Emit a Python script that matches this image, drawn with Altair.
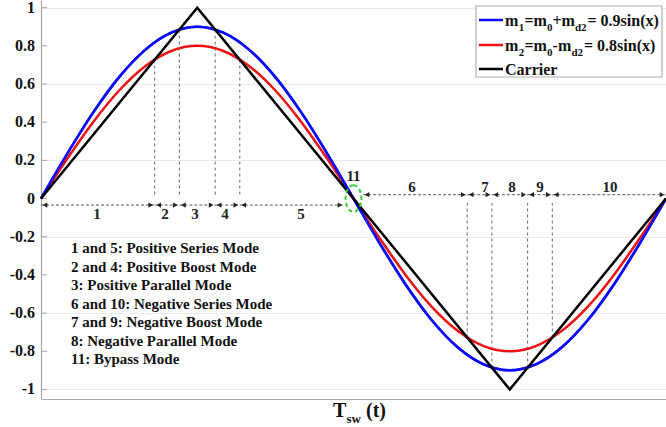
import altair as alt
import pandas as pd

# ---------------- data ----------------
deg = [0, 15, 30, 45, 60, 75, 90, 105, 120, 135, 150, 165, 180,
       195, 210, 225, 240, 255, 270, 285, 300, 315, 330, 345, 360]
m1 = [0, 0.233, 0.45, 0.636, 0.779, 0.869, 0.9, 0.869, 0.779, 0.636, 0.45, 0.233, 0,
      -0.233, -0.45, -0.636, -0.779, -0.869, -0.9, -0.869, -0.779, -0.636, -0.45, -0.233, 0]
m2 = [0, 0.207, 0.4, 0.566, 0.693, 0.773, 0.8, 0.773, 0.693, 0.566, 0.4, 0.207, 0,
      -0.207, -0.4, -0.566, -0.693, -0.773, -0.8, -0.773, -0.693, -0.566, -0.4, -0.207, 0]
carrier_deg = [0, 90, 270, 360]
carrier_val = [0, 1, -1, 0]

cross_deg = [65.5, 79.7, 100.3, 114.5, 245.5, 259.7, 280.3, 294.5]
cross_val = [0.728, 0.885, 0.885, 0.728, -0.728, -0.885, -0.885, -0.728]

seg_start = [0, 65.5, 79.7, 100.3, 114.5, 185.5, 245.5, 259.7, 280.3, 294.5]
seg_end = [65.5, 79.7, 100.3, 114.5, 174.5, 245.5, 259.7, 280.3, 294.5, 360]
seg_label = ["1", "2", "3", "4", "5", "6", "7", "8", "9", "10"]
label_deg = [32.3, 71.4, 88.7, 106.0, 149.8, 213.7, 255.7, 271.3, 287.4, 327.7]
bypass_label = "11"
bypass_deg = 180

y_ticks = [-1, -0.8, -0.6, -0.4, -0.2, 0, 0.2, 0.4, 0.6, 0.8, 1]
y_tick_labels = ["-1", "-0.8", "-0.6", "-0.4", "-0.2", "0", "0.2", "0.4", "0.6", "0.8", "1"]

modes = [
    "1 and 5: Positive Series Mode",
    "2 and 4: Positive Boost Mode",
    "3: Positive Parallel Mode",
    "6 and 10: Negative Series Mode",
    "7 and 9: Negative Boost Mode",
    "8: Negative Parallel Mode",
    "11: Bypass Mode",
]

series_colors = ["#0a0aff", "#ee1111", "#000000"]

# ---------------- layout ----------------
W, H = 625, 399
FONT = "Liberation Serif"
xs = alt.Scale(domain=[0, 360], nice=False, zero=False)
ys = alt.Scale(domain=[-1.05, 1.04], nice=False, zero=False)
rowA, rowB = -0.034, 0.02          # arrow rows (data units)
dash_end_pos, dash_end_neg = 0.008, -0.023

curves = pd.DataFrame({"deg": deg, "m1": m1, "m2": m2})
carrier = pd.DataFrame({"deg": carrier_deg, "v": carrier_val})
cross = pd.DataFrame({"deg": cross_deg, "v": cross_val,
                      "end": [dash_end_pos if v > 0 else dash_end_neg for v in cross_val]})
segs = pd.DataFrame({"s": seg_start, "e": seg_end, "lab": seg_label, "lx": label_deg,
                     "row": [rowA] * 5 + [rowB] * 5})
segsA = segs.iloc[:5]
segsB = segs.iloc[5:]
ticks = pd.DataFrame({"t": y_ticks, "lab": y_tick_labels})
one = pd.DataFrame({"a": [0]})

def X(f):
    return alt.X(f, scale=xs, title=None)

def Y(f):
    return alt.Y(f, scale=ys, title=None)

base = alt.Chart(curves).mark_line(color=series_colors[0], strokeWidth=2.5,
                                   interpolate="monotone").encode(
    x=alt.X("deg:Q", scale=xs, title=None),
    y=alt.Y("m1:Q", scale=ys, title=None, axis=alt.Axis(values=y_ticks)),
)

red = alt.Chart(curves).mark_line(color=series_colors[1], strokeWidth=2.5,
                                  interpolate="monotone").encode(x=X("deg:Q"), y=Y("m2:Q"))
blk = alt.Chart(carrier).mark_line(color=series_colors[2], strokeWidth=2.5).encode(
    x=X("deg:Q"), y=Y("v:Q"))

inner_ticks = alt.Chart(ticks).mark_rule(color="#a6a6a6", strokeWidth=1).encode(
    y=Y("t:Q"), x=alt.value(0), x2=alt.value(6))
tick_text = alt.Chart(ticks).mark_text(
    font=FONT, fontWeight="bold", fontSize=16, color="#111", align="right",
    baseline="middle").encode(y=Y("t:Q"), x=alt.value(-6), text="lab:N")

vdash = alt.Chart(cross).mark_rule(color="#555", strokeWidth=0.9, strokeDash=[3, 3]).encode(
    x=X("deg:Q"), y=Y("v:Q"), y2="end:Q")

shaft = alt.Chart(segs).mark_rule(color="#444", strokeWidth=0.9, strokeDash=[3, 2]).encode(
    x=X("s:Q"), x2="e:Q", y=Y("row:Q"))
headL = alt.Chart(segs).mark_point(shape="triangle-left", filled=True, size=28,
                                   color="#222", opacity=1, xOffset=4).encode(
    x=X("s:Q"), y=Y("row:Q"))
headR = alt.Chart(segs).mark_point(shape="triangle-right", filled=True, size=28,
                                   color="#222", opacity=1, xOffset=-4).encode(
    x=X("e:Q"), y=Y("row:Q"))

labA = alt.Chart(segsA).mark_text(font=FONT, fontWeight="bold", fontSize=15,
                                  color="#222", baseline="middle", dy=9).encode(
    x=X("lx:Q"), y=Y("row:Q"), text="lab:N")
labB = alt.Chart(segsB).mark_text(font=FONT, fontWeight="bold", fontSize=15,
                                  color="#222", baseline="middle", dy=-8).encode(
    x=X("lx:Q"), y=Y("row:Q"), text="lab:N")

byp = pd.DataFrame({"x": [bypass_deg], "y": [0], "lab": [bypass_label]})
lab11 = alt.Chart(byp).mark_text(font=FONT, fontWeight="bold", fontSize=15,
                                 color="#222", baseline="middle", dy=-23).encode(
    x=X("x:Q"), y=Y("y:Q"), text="lab:N")
ellipse = alt.Chart(byp).mark_point(
    shape="M0,-1 A0.6,1 0 1,1 0,1 A0.6,1 0 1,1 0,-1 Z",
    size=700, filled=False, color="#33cc33", strokeWidth=2, strokeDash=[4, 3], opacity=1
).encode(x=X("x:Q"), y=Y("y:Q"))

mode_df = pd.DataFrame({"t": ["\n".join(modes)]})
mode_txt = alt.Chart(mode_df).mark_text(
    font=FONT, fontWeight="bold", fontSize=15, color="#111", align="left",
    baseline="top", lineBreak="\n", lineHeight=18.5
).encode(x=alt.value(30), y=alt.value(241), text="t:N")

# legend (manual, to allow subscripts)
leg_box = alt.Chart(one).mark_rect(fill="white", stroke="#b0b0b0", strokeWidth=1.2).encode(
    x=alt.value(435), x2=alt.value(621), y=alt.value(6), y2=alt.value(77))
leg_lines = []
for i, yy in enumerate([20, 45, 69]):
    leg_lines.append(alt.Chart(one).mark_rule(color=series_colors[i], strokeWidth=2.5).encode(
        x=alt.value(438), x2=alt.value(462), y=alt.value(yy)))

pieces = [
    ("m", 464, 26, 16), ("1", 477.8, 31, 11), ("=", 483.5, 26, 16), ("m", 492.6, 26, 16),
    ("0", 506, 31, 11), ("+", 511.5, 26, 16), ("m", 520.6, 26, 16), ("d2", 534, 31, 11),
    ("= 0.9sin(x)", 546.5, 26, 16),
    ("m", 464, 51, 16), ("2", 477.8, 56, 11), ("=", 483.5, 51, 16), ("m", 492.6, 51, 16),
    ("0", 506, 56, 11), ("-", 511.5, 51, 16), ("m", 517, 51, 16), ("d2", 530.5, 56, 11),
    ("= 0.8sin(x)", 543, 51, 16),
    ("Carrier", 464, 75, 16),
    ("T", 292, 417, 20), ("sw", 305.5, 423, 13), ("(t)", 325, 417, 20),
]
leg_txt = []
for t, px, py, fs in pieces:
    leg_txt.append(alt.Chart(one).mark_text(
        font=FONT, fontWeight="bold", fontSize=fs, color="#111", align="left",
        baseline="alphabetic", text=t).encode(x=alt.value(px), y=alt.value(py)))

chart = alt.layer(
    base, inner_ticks, tick_text, vdash, shaft, headL, headR, labA, labB, red,
    base, blk, ellipse, lab11, mode_txt, leg_box, *leg_lines, *leg_txt
).properties(
    width=W, height=H,
    autosize=alt.AutoSizeParams(type="none"),
    padding={"left": 41, "top": 0, "right": 0, "bottom": 28},
    background="white",
).configure_view(stroke=None).configure_axisX(
    labels=False, ticks=False, grid=False, domainColor="#a6a6a6", domainWidth=1.2
).configure_axisY(
    labels=False, ticks=False, grid=True, gridColor="#e9e9e9", gridWidth=1,
    domainColor="#a6a6a6", domainWidth=1.2
)

chart.save("out.html", embed_options={"renderer": "svg", "actions": False})
